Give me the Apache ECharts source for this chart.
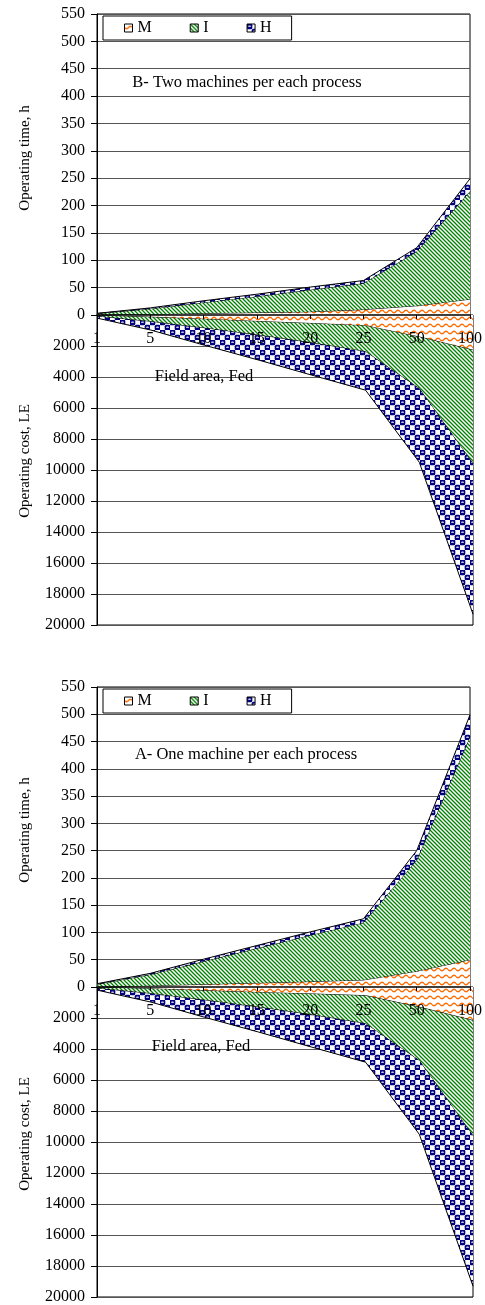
<!DOCTYPE html>
<html><head><meta charset="utf-8">
<script src="https://cdn.jsdelivr.net/npm/echarts@6/dist/echarts.min.js"></script>
<style>html,body{margin:0;padding:0;background:#fff}#c{width:485px;height:1305px}</style>
</head><body><div id="c"></div>
<script>
// ---- data ----
const categories = ['1','5','10','15','20','25','50','100'];
const seriesNames = ['M','I','H'];
const timeTicks = {min:0, max:550, step:50};
const costTicks = {min:0, max:20000, step:2000};
// Panel B: two machines per each process
const timeB_M = [0.3, 1.5, 3, 4.5, 6, 10, 17, 29];
const timeB_I = [2.4, 10, 20, 29.5, 40, 48, 99, 197];
const timeB_H = [0.3, 1.5, 3, 4, 5, 5, 7, 23];
const costB_M = [30, 140, 280, 420, 550, 700, 1420, 2270];
const costB_I = [60, 290, 570, 880, 1250, 1670, 3330, 7330];
const costB_H = [110, 540, 1100, 1600, 2080, 2480, 4750, 9700];
// Panel A: one machine per each process
const timeA_M = [0.5, 2.5, 5, 7.5, 10, 13, 29, 50];
const timeA_I = [4.5, 20.5, 42, 63.5, 85, 105, 204, 409];
const timeA_H = [1, 2, 4, 5, 6, 7, 17, 40];
const costA_M = [25, 120, 240, 360, 450, 560, 1300, 2160];
const costA_I = [65, 310, 610, 940, 1350, 1810, 3450, 7440];
const costA_H = [110, 540, 1100, 1600, 2080, 2480, 4750, 9700];

const FONT = "'Liberation Serif','Times New Roman',serif";
const FS = 16;

function tile(w, h, draw) {
  const c = document.createElement('canvas');
  c.width = w; c.height = h;
  const g = c.getContext('2d');
  g.fillStyle = '#fff'; g.fillRect(0, 0, w, h);
  draw(g);
  return {image: c, repeat: 'repeat'};
}
const patM = tile(8, 7, g => {
  g.strokeStyle = '#ff6a00'; g.lineWidth = 1.4;
  g.beginPath();
  for (let x = 0; x <= 8; x += 0.5) {
    const y = 3.5 + 1.3 * Math.sin(2 * Math.PI * x / 8);
    if (x === 0) g.moveTo(x, y); else g.lineTo(x, y);
  }
  g.stroke();
});
const patI = tile(4, 4, g => {
  g.strokeStyle = '#008000'; g.lineWidth = 1.3;
  g.beginPath();
  g.moveTo(-1, -1); g.lineTo(5, 5);
  g.moveTo(-1, 3); g.lineTo(1, 5);
  g.moveTo(3, -1); g.lineTo(5, 1);
  g.stroke();
});
function rrect(g, x, y, w, h, r) {
  g.beginPath();
  g.moveTo(x + r, y); g.lineTo(x + w - r, y); g.quadraticCurveTo(x + w, y, x + w, y + r);
  g.lineTo(x + w, y + h - r); g.quadraticCurveTo(x + w, y + h, x + w - r, y + h);
  g.lineTo(x + r, y + h); g.quadraticCurveTo(x, y + h, x, y + h - r);
  g.lineTo(x, y + r); g.quadraticCurveTo(x, y, x + r, y);
  g.fill();
}
const patH = tile(10, 10, g => {
  g.fillStyle = '#000080';
  rrect(g, -0.3, -0.3, 5.6, 5.6, 1.6);
  rrect(g, 4.7, 4.7, 5.6, 5.6, 1.6);
  g.fillStyle = '#fff';
  [[2.5, 2.2], [7.5, 7.2]].forEach(([cx, cy]) => {
    g.beginPath(); g.ellipse(cx, cy, 1.5, 0.6, 0, 0, Math.PI * 2); g.fill();
  });
});
const patterns = {M: patM, I: patI, H: patH};

const panels = [
  {upTop: 14, upH: 301, loH: 310, time: [timeB_M, timeB_I, timeB_H], cost: [costB_M, costB_I, costB_H],
   title: 'B- Two machines per each process', titleX: 247, titleY: 83, fieldX: 204, fieldY: 377,
   legTop: 16, yTitleTime: 158, yTitleCost: 461},
  {upTop: 687, upH: 300, loH: 310, time: [timeA_M, timeA_I, timeA_H], cost: [costA_M, costA_I, costA_H],
   title: 'A- One machine per each process', titleX: 246, titleY: 755, fieldX: 201, fieldY: 1047,
   legTop: 689, yTitleTime: 830, yTitleCost: 1134}
];

const grid = [], xAxis = [], yAxis = [], series = [], legend = [], graphic = [];
panels.forEach((p, pi) => {
  const gUp = grid.length;
  grid.push({left: 97, right: 12, top: p.upTop, height: p.upH, show: true, borderColor: '#000', borderWidth: 1});
  const gLo = grid.length;
  grid.push({left: 97, right: 12, top: p.upTop + p.upH, height: p.loH, show: true, borderColor: '#000', borderWidth: 1});
  xAxis.push({gridIndex: gUp, type: 'category', data: categories, boundaryGap: false, z: 10,
    axisLine: {lineStyle: {color: '#000', width: 1.5}},
    axisTick: {show: true, length: 4, interval: 0, lineStyle: {color: '#000'}},
    axisLabel: {margin: 16, interval: 0, showMinLabel: true, showMaxLabel: true, color: '#000', fontFamily: FONT, fontSize: FS},
    splitLine: {show: false}});
  xAxis.push({gridIndex: gLo, type: 'category', data: categories, boundaryGap: false, show: false});
  yAxis.push({gridIndex: gUp, type: 'value', min: timeTicks.min, max: timeTicks.max, interval: timeTicks.step,
    axisLine: {show: true, lineStyle: {color: '#000'}},
    axisTick: {show: true, length: 6, lineStyle: {color: '#000'}},
    axisLabel: {margin: 12, color: '#000', fontFamily: FONT, fontSize: FS},
    splitLine: {lineStyle: {color: '#555', width: 1}}});
  yAxis.push({gridIndex: gLo, type: 'value', inverse: true, min: costTicks.min, max: costTicks.max, interval: costTicks.step,
    axisLine: {show: true, lineStyle: {color: '#000'}},
    axisTick: {show: true, length: 6, lineStyle: {color: '#000'}},
    axisLabel: {margin: 12, color: '#000', fontFamily: FONT, fontSize: FS, showMinLabel: false,
      formatter: v => String(v)},
    splitLine: {lineStyle: {color: '#555', width: 1}}});
  const xi = pi * 2, yi = pi * 2;
  seriesNames.forEach((name, k) => {
    series.push({name, type: 'line', xAxisIndex: xi, yAxisIndex: yi, stack: 't' + pi, data: p.time[k],
      symbol: 'none', lineStyle: {color: '#000', width: 1}, itemStyle: {color: patterns[name]},
      areaStyle: {color: patterns[name], opacity: 1}, z: 2 + k});
    series.push({name, type: 'line', xAxisIndex: xi + 1, yAxisIndex: yi + 1, stack: 'c' + pi, data: p.cost[k],
      symbol: 'none', lineStyle: {color: '#000', width: 1}, itemStyle: {color: patterns[name]},
      areaStyle: {color: patterns[name], opacity: 1}, z: 2 + k});
  });
  legend.push({data: seriesNames, left: 103, top: p.legTop, orient: 'horizontal',
    padding: [4, 20, 4, 21], itemGap: 38, itemWidth: 8, itemHeight: 8, icon: 'rect',
    borderColor: '#000', borderWidth: 1, backgroundColor: '#fff',
    itemStyle: {borderColor: '#000', borderWidth: 1},
    textStyle: {color: '#000', fontFamily: FONT, fontSize: FS}});
  const txt = (text, x, y, rot, fs) => graphic.push({type: 'text', x, y, rotation: rot || 0, z: 20,
    style: {text, font: (fs || FS) + 'px ' + FONT, fill: '#000', align: 'center', verticalAlign: 'middle',
      textAlign: 'center', textVerticalAlign: 'middle'}});
  txt(p.title, p.titleX, p.titleY, 0, 16.5);
  txt('Field area, Fed', p.fieldX, p.fieldY, 0, 16.5);
  txt('Operating time, h', 25, p.yTitleTime, Math.PI / 2, 15);
  txt('Operating cost, LE', 25, p.yTitleCost, Math.PI / 2, 15);
});

const chart = echarts.init(document.getElementById('c'), null, {renderer: 'canvas'});
chart.setOption({animation: false, backgroundColor: '#fff', grid, xAxis, yAxis, series, legend, graphic});
</script></body></html>
